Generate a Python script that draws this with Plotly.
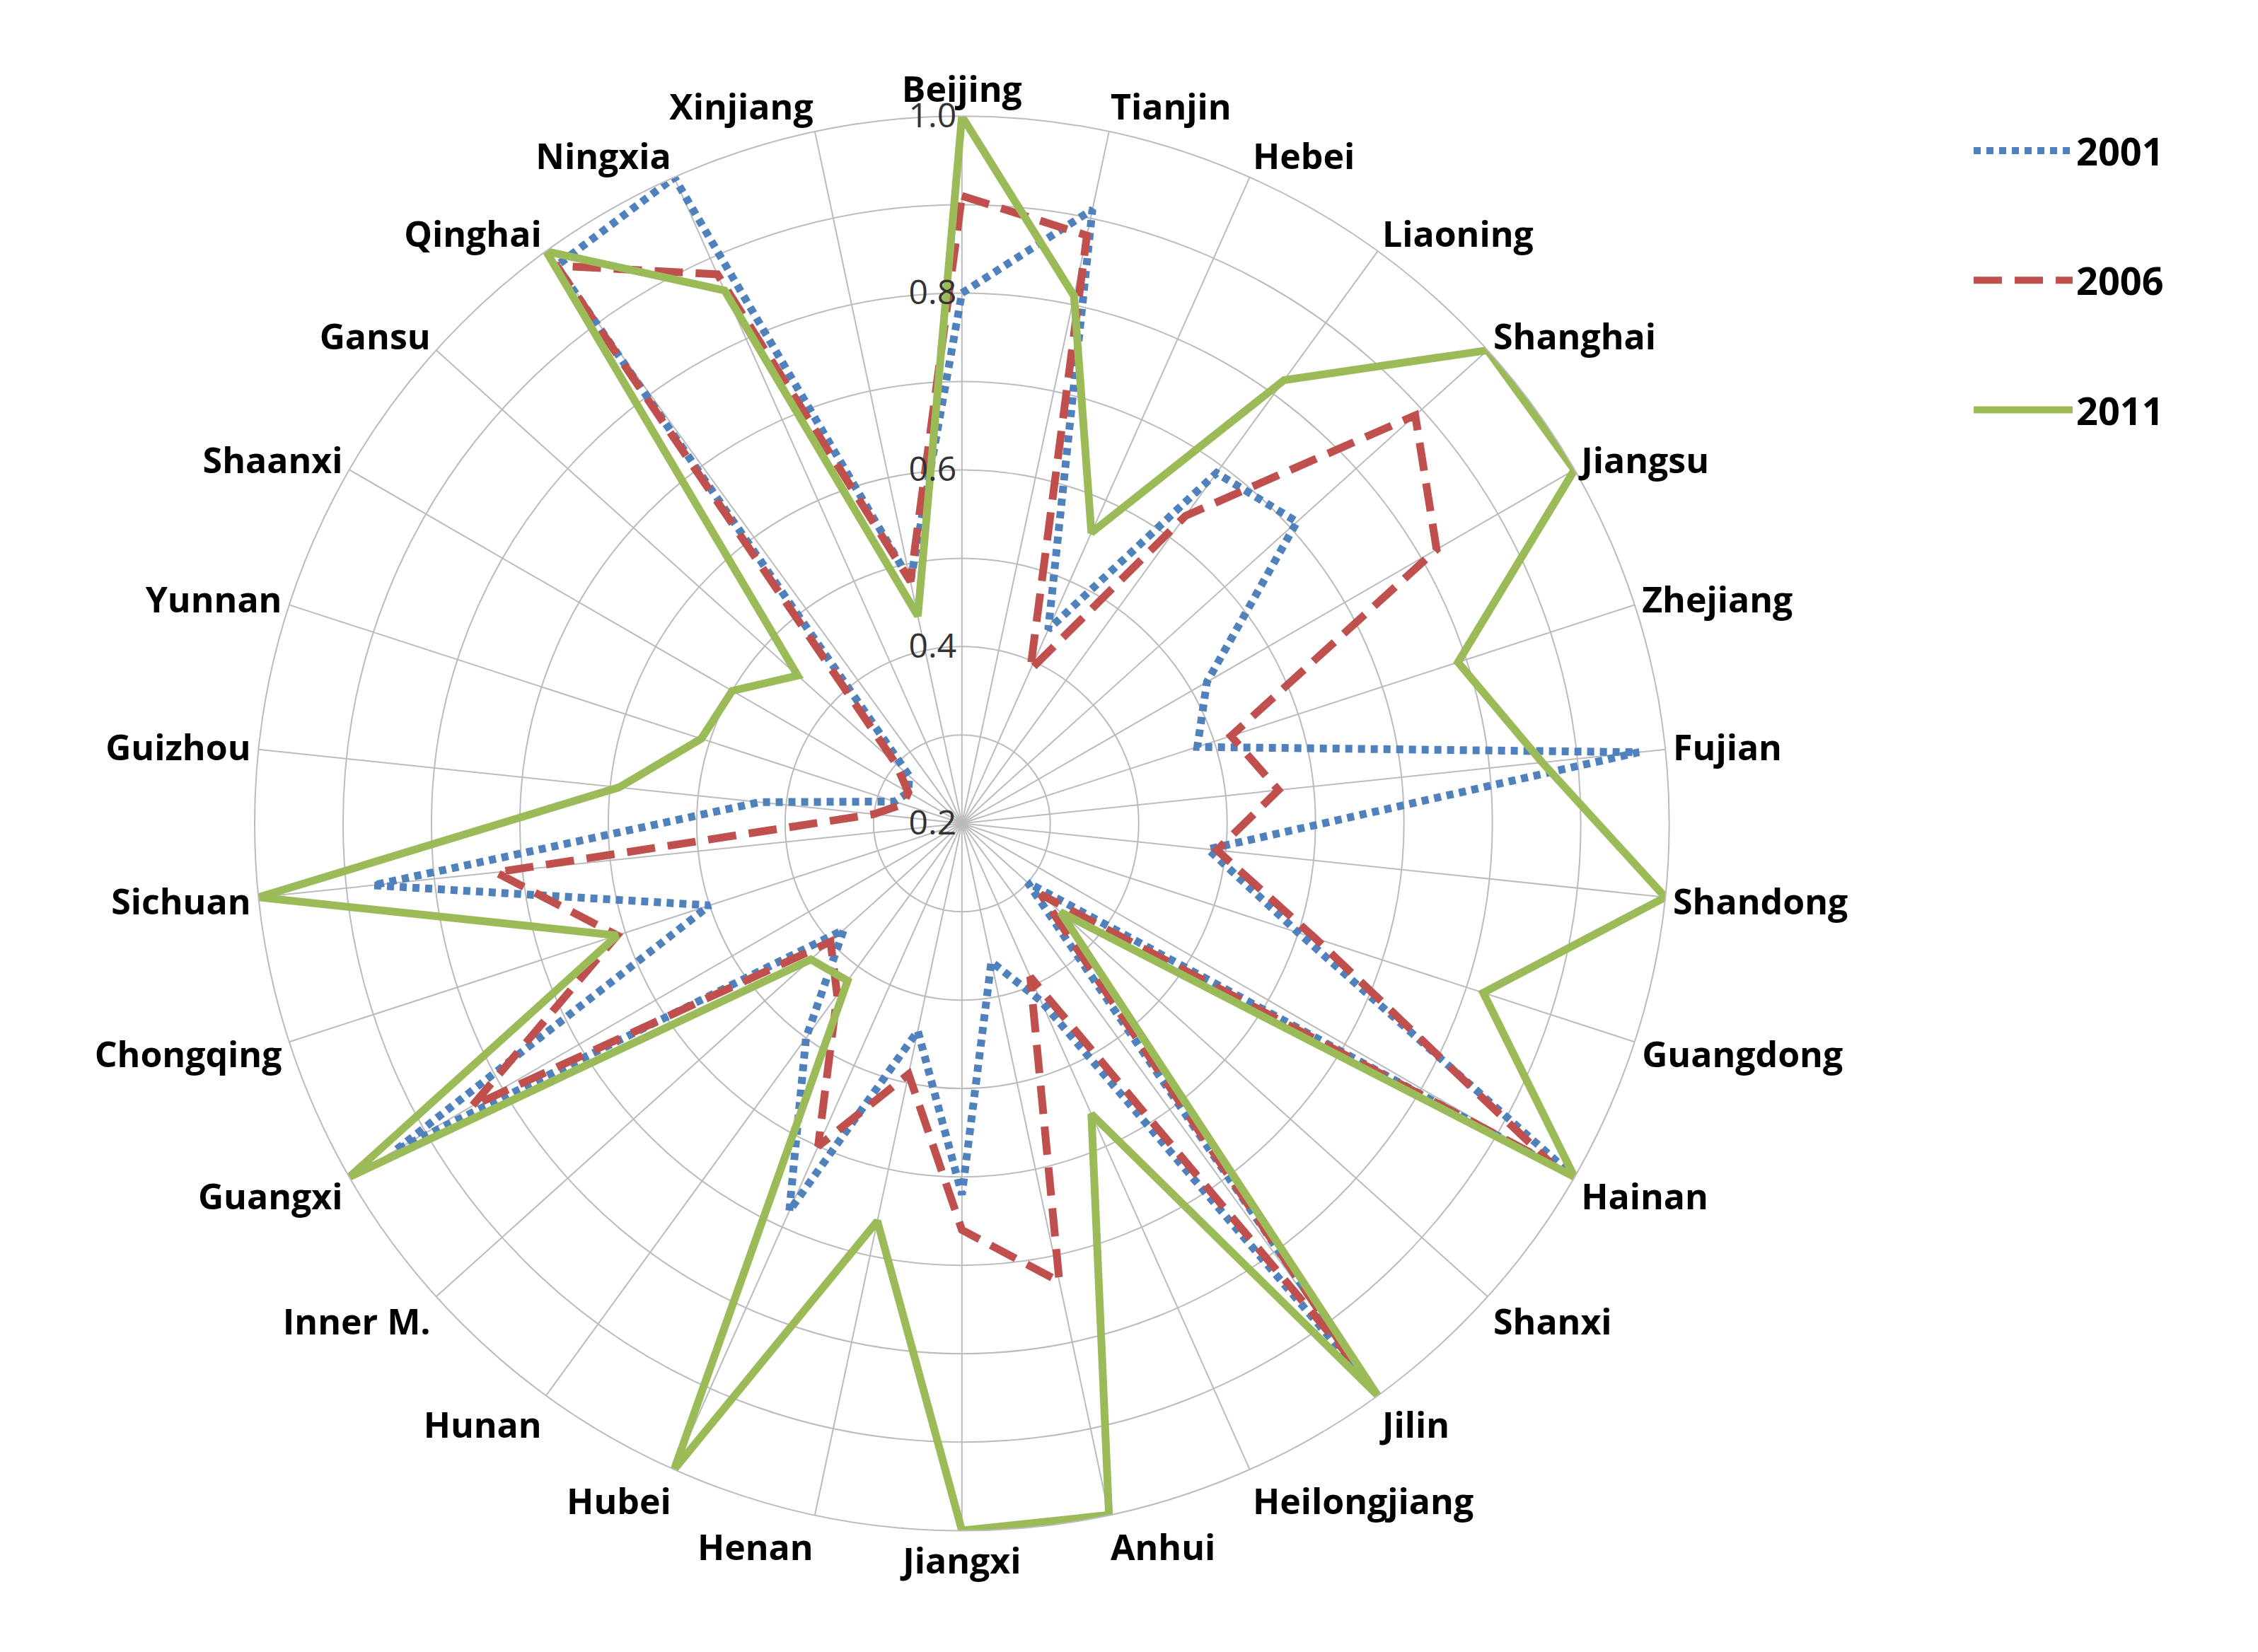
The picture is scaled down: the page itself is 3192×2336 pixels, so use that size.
import plotly.graph_objects as go

provinces = ["Beijing","Tianjin","Hebei","Liaoning","Shanghai","Jiangsu","Zhejiang","Fujian",
             "Shandong","Guangdong","Hainan","Shanxi","Jilin","Heilongjiang","Anhui","Jiangxi",
             "Henan","Hubei","Hunan","Inner M.","Guangxi","Chongqing","Sichuan","Guizhou",
             "Yunnan","Shaanxi","Gansu","Qinghai","Ningxia","Xinjiang"]
v2001 = [0.80,0.91,0.44,0.69,0.71,0.52,0.48,0.97,0.48,0.60,1.00,0.30,0.98,0.42,0.36,0.62,
         0.44,0.68,0.50,0.38,0.94,0.50,0.87,0.43,0.28,0.27,0.28,0.98,1.00,0.48]
v2006 = [0.91,0.88,0.39,0.63,0.89,0.82,0.52,0.56,0.49,0.62,0.97,0.32,0.95,0.39,0.73,0.66,
         0.49,0.60,0.44,0.40,0.84,0.61,0.73,0.30,0.27,0.27,0.30,0.98,0.88,0.48]
v2011 = [1.00,0.81,0.56,0.82,1.00,1.00,0.79,0.86,1.00,0.82,1.00,0.35,1.00,0.56,1.00,1.00,
         0.66,1.00,0.42,0.43,1.00,0.61,1.00,0.59,0.51,0.50,0.45,1.00,0.86,0.44]
years = ["2001","2006","2011"]
colors = ["#4F81BD","#C0504D","#9BBB59"]
dashes = ["10px,8px","40px,18px","solid"]
tickvals = [0.2,0.3,0.4,0.5,0.6,0.7,0.8,0.9,1.0]
ticktext = ["0.2","","0.4","","0.6","","0.8","","1.0"]

fig = go.Figure()
for name, vals, c, d in zip(years, [v2001, v2006, v2011], colors, dashes):
    fig.add_trace(go.Scatterpolar(r=vals + vals[:1], theta=provinces + provinces[:1],
                                  mode="lines", name="<b>%s</b>" % name, legendgroup=name,
                                  line=dict(color=c, width=11, dash=d)))

fig.update_layout(
    width=3192, height=2336, paper_bgcolor="white", margin=dict(l=0, r=0, t=0, b=0),
    font=dict(family="Open Sans", size=50, color="black"),
    polar=dict(
        domain=dict(x=[0.11, 0.737], y=[0.077, 0.933]),
        bgcolor="white",
        angularaxis=dict(direction="clockwise", rotation=90,
                         tickvals=provinces, ticktext=["<b>%s</b>" % p for p in provinces],
                         tickfont=dict(size=50), gridcolor="#BBBBBB", gridwidth=2,
                         linecolor="#BBBBBB", linewidth=2, ticks=""),
        radialaxis=dict(range=[0.2, 1.0], angle=90, tickangle=90, side="counterclockwise",
                        tickvals=tickvals, ticktext=ticktext,
                        tickfont=dict(size=48, color="#333333"),
                        gridcolor="#BBBBBB", gridwidth=2, showline=False, ticks=""),
    ),
    legend=dict(x=0.87, y=0.93, xanchor="left", yanchor="top",
                font=dict(size=54), itemwidth=140, tracegroupgap=110),
)
fig.write_html("out.html")
